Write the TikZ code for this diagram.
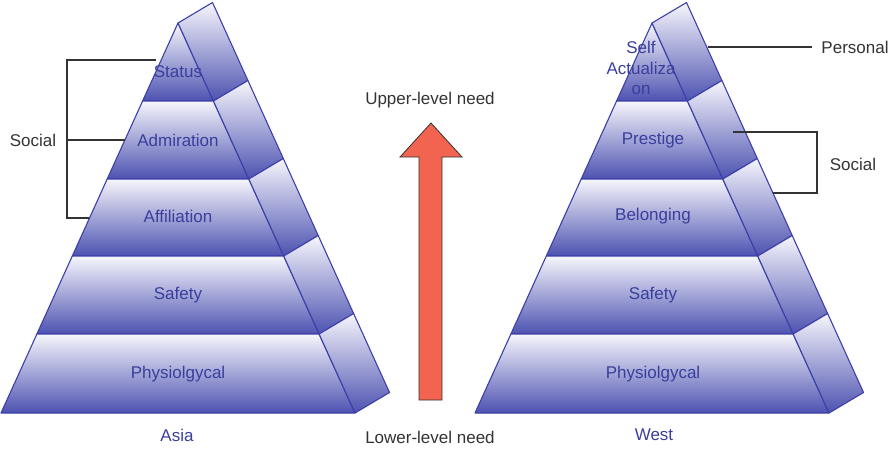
\documentclass[tikz,border=0pt]{standalone}
\usepackage{fontspec}
\setmainfont{Liberation Sans}
\definecolor{edge}{HTML}{3C40A8}
\definecolor{bandT}{HTML}{F6F6FC}
\definecolor{bandM}{HTML}{B4B5E0}
\definecolor{bandB}{HTML}{4D52B0}
\definecolor{lbl}{HTML}{3A3E9C}
\definecolor{txt}{HTML}{333333}
\definecolor{arrowred}{HTML}{F26450}
\tikzset{
  band/.style={draw=edge, line width=1.1pt, line join=round, top color=bandT, middle color=bandM, bottom color=bandB},
  lvl/.style={text=lbl, font=\fontsize{17}{20}\selectfont, inner sep=0pt},
  note/.style={text=txt, font=\fontsize{17}{20}\selectfont, inner sep=0pt},
  brk/.style={draw=txt, line width=1.1pt},
  bigarrow/.style={fill=arrowred, draw=txt, line width=0.8pt, line join=miter},
}
\newcommand\mypyr[1]{%
  \begin{scope}[xshift=#1]
    \foreach \yt/\lt/\rt/\yb/\lb/\rb in
      {23/178/178/101/142.6/213.4,
       101/142.6/213.4/179/107.2/248.8,
       179/107.2/248.8/256/72.3/283.7,
       256/72.3/283.7/334/36.9/319.1,
       334/36.9/319.1/413/1/355}{
      \path[band] (\lt,\yt) -- (\lb,\yb) -- (\rb,\yb) -- (\rt,\yt) -- cycle;
      \path[band] (\rt,\yt) -- (\rb,\yb) -- ({\rb+34.5},{\yb-20.5}) -- ({\rt+34.5},{\yt-20.5}) -- cycle;
    }
  \end{scope}}
\begin{document}
\begin{tikzpicture}[x=1pt,y=-1pt]
\useasboundingbox (0,0) rectangle (890,448);

% pyramids
\mypyr{0pt}
\mypyr{474pt}

% Asia labels
\node[lvl] (status) at (178,72) {Status};
\node[lvl] (admir) at (178,140) {Admiration};
\node[lvl] (affil) at (178,216) {Affiliation};
\node[lvl] (safeA) at (178,295) {Safety};
\node[lvl] (physA) at (178,374) {Physiolgycal};
\node[lvl] (asia) at (177,435) {Asia};

% West labels
\node[lvl, align=center, font=\fontsize{17}{20.5}\selectfont] (selfact) at (641,68) {Self\\Actualiza\\on};
\node[lvl] (prest) at (653,140) {Prestige};
\node[lvl] (belong) at (653,216) {Belonging};
\node[lvl] (safeW) at (653,295) {Safety};
\node[lvl] (physW) at (653,374) {Physiolgycal};
\node[lvl] (west) at (654,435) {West};

% Social bracket (Asia)
\node[note] (socA) at (33,140) {Social};
\coordinate (bA1) at (67,60);
\coordinate (bA2) at (67,140);
\coordinate (bA3) at (67,218);
\coordinate (eA1) at (156,60);
\coordinate (eA2) at (125,140);
\coordinate (eA3) at (89,218);
\draw[brk] (eA1) -- (bA1) -- (bA3) -- (eA3);
\draw[brk] (bA2) -- (eA2);

% Personal (West)
\node[note] (pers) at (855,47) {Personal};
\coordinate (pS) at (708,47);
\coordinate (pE) at (812,47);
\draw[brk] (pS) -- (pE);

% Social bracket (West)
\node[note] (socW) at (853,164) {Social};
\coordinate (bW1) at (733,132);
\coordinate (bW2) at (817,132);
\coordinate (bW3) at (817,193);
\coordinate (bW4) at (773,193);
\draw[brk] (bW1) -- (bW2) -- (bW3) -- (bW4);

% arrow
\node[note] (upper) at (430,100) {Upper-level need};
\node[note] (lower) at (430,437) {Lower-level need};
\draw[bigarrow] (419,400) -- (442,400) -- (442,157) -- (462,157) -- (431,123) -- (400,157) -- (419,157) -- cycle;
\end{tikzpicture}
\end{document}
